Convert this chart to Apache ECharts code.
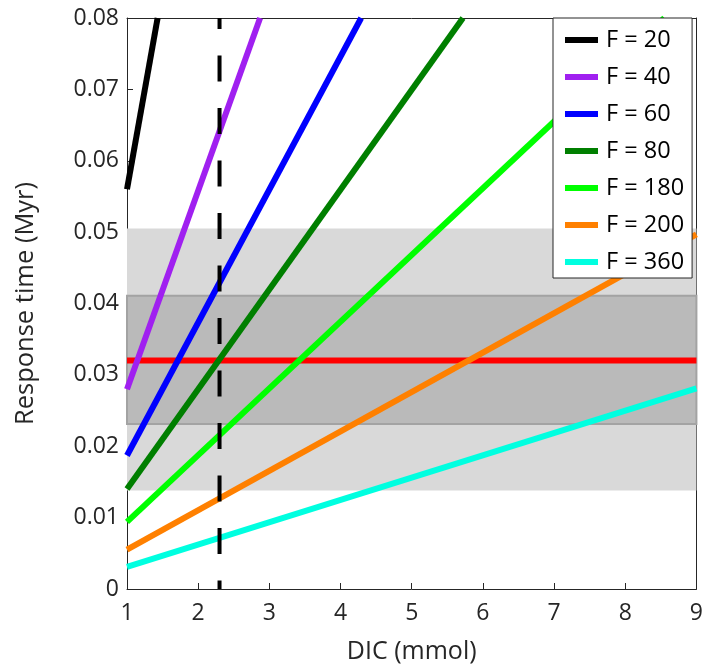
<!DOCTYPE html>
<html>
<head>
<meta charset="utf-8">
<script src="https://cdn.jsdelivr.net/npm/echarts@6/dist/echarts.min.js"></script>
<style>html,body{margin:0;padding:0;background:#fff}#c{width:706px;height:669px}</style>
</head>
<body>
<div id="c"></div>
<script>
// Data
const fLabels = ['F = 20', 'F = 40', 'F = 60', 'F = 80', 'F = 180', 'F = 200', 'F = 360'];
const lineF20  = [[1, 0.0560], [1.43, 0.0800]];
const lineF40  = [[1, 0.0280], [2.87, 0.0800]];
const lineF60  = [[1, 0.0187], [4.29, 0.0800]];
const lineF80  = [[1, 0.0140], [5.72, 0.0800]];
const lineF180 = [[1, 0.0094], [8.55, 0.0800]];
const lineF200 = [[1, 0.0055], [9, 0.0497]];
const lineF360 = [[1, 0.0031], [9, 0.0281]];
const refLevel = 0.032;          // red horizontal line
const lightBand = [0.0138, 0.0505];
const darkBand = [0.0231, 0.0411];
const dicMarker = 2.3;           // dashed vertical line
const xTicks = [1, 2, 3, 4, 5, 6, 7, 8, 9];
const yTicks = ['0', '0.01', '0.02', '0.03', '0.04', '0.05', '0.06', '0.07', '0.08'];

const colors = ['#000000', '#a020f0', '#0000ff', '#007f00', '#00ff00', '#ff8000', '#00ffe0'];
const lines = [lineF20, lineF40, lineF60, lineF80, lineF180, lineF200, lineF360];

const FONT = 'Open Sans';
const AX = '#262626';

const chart = echarts.init(document.getElementById('c'), null, {renderer: 'canvas'});

const series = [];
series.push({
  name: 'bands', type: 'line', data: [], z: 1, silent: true,
  markArea: {
    silent: true,
    data: [
      [{xAxis: xTicks[0], yAxis: lightBand[0], itemStyle: {color: '#d9d9d9'}}, {xAxis: xTicks[xTicks.length-1], yAxis: lightBand[1]}],
      [{xAxis: xTicks[0], yAxis: darkBand[0], itemStyle: {color: '#bababa', borderColor: '#a3a3a3', borderWidth: 2}}, {xAxis: xTicks[xTicks.length-1], yAxis: darkBand[1]}]
    ]
  }
});
series.push({
  name: 'ref', type: 'line', z: 3, symbol: 'none', silent: true,
  data: [[xTicks[0], refLevel], [xTicks[xTicks.length-1], refLevel]],
  lineStyle: {color: '#ff0000', width: 6}
});
lines.forEach((d, i) => {
  series.push({
    name: fLabels[i], type: 'line', z: 4, symbol: 'none', silent: true,
    data: d, color: colors[i],
    lineStyle: {color: colors[i], width: 6, cap: 'butt'}
  });
});
series.push({
  name: 'marker', type: 'line', z: 5, symbol: 'none', silent: true,
  data: [[dicMarker, 0.08], [dicMarker, 0]],
  lineStyle: {color: '#000', width: 4, type: [26, 26.5], dashOffset: 15}
});

chart.setOption({
  animation: false,
  backgroundColor: '#fff',
  grid: {left: 127, right: 8, top: 18, bottom: 79, containLabel: false},
  legend: {
    data: fLabels, orient: 'vertical', left: 553, top: 18,
    icon: 'rect', itemWidth: 33, itemHeight: 6, itemGap: 13,
    padding: [10, 8, 4, 12],
    backgroundColor: '#fff', borderColor: AX, borderWidth: 1, borderRadius: 0,
    textStyle: {fontFamily: FONT, fontSize: 23.5, color: '#000', lineHeight: 23.5, padding: [0, 0, 0, 3]},
    z: 10
  },
  xAxis: [{
    type: 'value', min: 1, max: 9, interval: 1,
    name: 'DIC (mmol)', nameLocation: 'middle', nameGap: 50,
    nameTextStyle: {fontFamily: FONT, fontSize: 25, color: AX},
    axisLine: {show: true, onZero: false, lineStyle: {color: AX, width: 1}},
    axisTick: {show: true, inside: true, length: 6, lineStyle: {color: AX}},
    axisLabel: {fontFamily: FONT, fontSize: 23, color: AX, margin: 13},
    splitLine: {show: false}
  }, {
    type: 'value', min: 1, max: 9, position: 'top',
    axisLine: {show: true, onZero: false, lineStyle: {color: AX, width: 1}},
    axisTick: {show: false}, axisLabel: {show: false}, splitLine: {show: false}
  }],
  yAxis: [{
    type: 'value', min: 0, max: 0.08, interval: 0.01,
    name: 'Response time (Myr)', nameLocation: 'middle', nameGap: 88,
    nameTextStyle: {fontFamily: FONT, fontSize: 25.5, color: AX},
    axisLine: {show: true, onZero: false, lineStyle: {color: AX, width: 1}},
    axisTick: {show: true, inside: true, length: 6, lineStyle: {color: AX}},
    axisLabel: {fontFamily: FONT, fontSize: 23, color: AX, margin: 8,
      formatter: (v) => yTicks[Math.round(v * 100)]},
    splitLine: {show: false}
  }, {
    type: 'value', min: 0, max: 0.08, position: 'right',
    axisLine: {show: true, onZero: false, lineStyle: {color: AX, width: 1}},
    axisTick: {show: false}, axisLabel: {show: false}, splitLine: {show: false}
  }],
  series: series
});
</script>
</body>
</html>
